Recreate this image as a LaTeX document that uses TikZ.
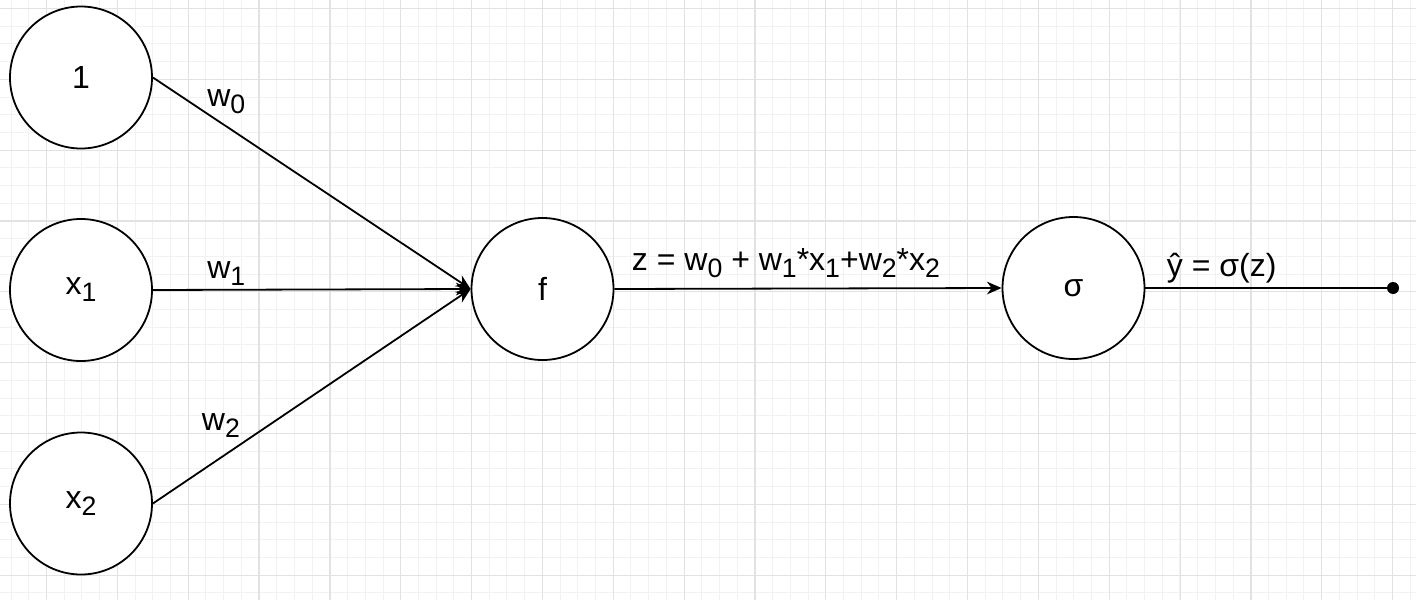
\documentclass[tikz,border=0pt]{standalone}
\usepackage{fontspec}
\setmainfont{Liberation Sans}
\usetikzlibrary{arrows.meta}
\definecolor{gridminor}{RGB}{242,242,242}
\definecolor{gridmajor}{RGB}{226,226,226}
\newcommand{\sbs}[1]{\raisebox{-5.3pt}{\fontsize{20}{20}\selectfont #1}}
\begin{document}
\begin{tikzpicture}[x=0.75pt,y=-0.75pt,
  neuron/.style={circle,draw,line width=1.35pt,minimum size=106.5pt,inner sep=0pt,fill=white,font=\fontsize{24}{28}\selectfont},
  lbl/.style={anchor=base west,inner sep=0pt,font=\fontsize{24}{28}\selectfont},
  conn/.style={line width=1.35pt,-{Stealth[length=11pt,width=9.5pt,inset=3.5pt]}},
  plain/.style={line width=1.35pt},
  dot/.style={circle,fill=black,inner sep=0pt,minimum size=9pt},
  minorline/.style={gridminor,line width=0.75pt},
  majorline/.style={gridmajor,line width=0.9pt}]
\useasboundingbox (0,0) rectangle (1416,600);
\fill[white] (0,0) rectangle (1416,600);
% grid
\foreach \i in {0,...,80} {\draw[minorline] ({11.1+\i*17.71},0) -- ({11.1+\i*17.71},600);}
\foreach \j in {0,...,34} {\draw[minorline] (0,{8.45+\j*17.71}) -- (1416,{8.45+\j*17.71});}
\foreach \i in {0,...,19} {\draw[majorline] ({46.5+\i*70.85},0) -- ({46.5+\i*70.85},600);}
\foreach \j in {0,...,8} {\draw[majorline] (0,{8.45+\j*70.85}) -- (1416,{8.45+\j*70.85});}
% neurons
\node[neuron] (n1) at (81,77.5) {1};
\node[neuron] (nx1) at (81,290) {x\sbs{1}};
\node[neuron] (nx2) at (81,503.5) {x\sbs{2}};
\node[neuron] (f) at (542.5,289) {f};
\node[neuron] (s) at (1073.5,288) {σ};
\node[dot] (out) at (1393,288) {};
% connectors
\draw[conn] (n1.east) -- (f.west);
\draw[conn] (nx1.east) -- (f.west);
\draw[conn] (nx2.east) -- (f.west);
\draw[conn] (f.east) -- (s.west);
\draw[plain] (s.east) -- (out.center);
% labels
\node[lbl] (w0) at (207,106.7) {w\sbs{0}};
\node[lbl] (w1) at (207,278.3) {w\sbs{1}};
\node[lbl] (w2) at (201.7,430) {w\sbs{2}};
\node[lbl] (zeq) at (631.7,270) {z = w\sbs{0} + w\sbs{1}*x\sbs{1}+w\sbs{2}*x\sbs{2}};
\node[lbl] (yhat) at (1166.7,276) {ŷ = σ(z)};
\end{tikzpicture}
\end{document}
